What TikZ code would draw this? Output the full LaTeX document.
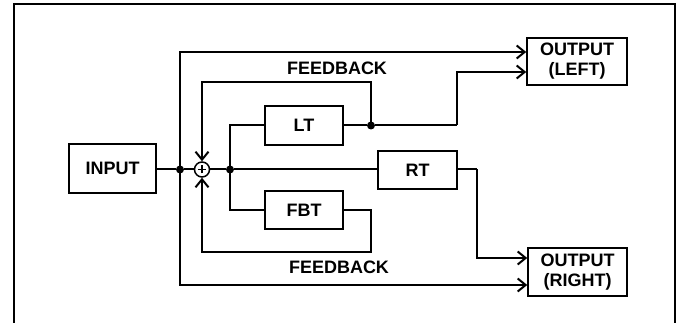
\documentclass[tikz,border=0pt]{standalone}
\usepackage{fontspec}
\setmainfont{Liberation Sans}
\usetikzlibrary{arrows.meta}
\begin{document}
\begin{tikzpicture}[x=1pt,y=-1pt,
  blk/.style={draw,line width=1.5pt,minimum width=#1,inner sep=0pt,font=\fontsize{18}{20}\selectfont\bfseries,align=center},
  wire/.style={line width=2pt},
  arr/.style={wire,-{Straight Barb[length=8pt,width=13pt]}},
  dot/.style={circle,fill,inner sep=0pt,minimum size=8pt},
  lbl/.style={font=\fontsize{18}{20}\selectfont\bfseries,inner sep=0pt}]
\useasboundingbox (0,0) rectangle (685,323);
\draw[line width=1.8pt] (14,330) -- (14,4) -- (675,4) -- (675,330);
% blocks
\node[blk=87pt,minimum height=49pt] (in) at (112.5,168.5) {INPUT};
\node[blk=78pt,minimum height=39pt] (lt) at (304,125.5) {LT};
\node[blk=78pt,minimum height=38pt] (fbt) at (304,210) {FBT};
\node[blk=79pt,minimum height=38pt] (rt) at (417.5,170) {RT};
\node[blk=100pt,minimum height=47pt] (outl) at (577,61.5) {OUTPUT\\(LEFT)};
\node[blk=99pt,minimum height=48pt] (outr) at (577.5,272) {OUTPUT\\(RIGHT)};
% summing junction
\node[circle,draw,line width=1.5pt,minimum size=15pt,inner sep=0pt] (sum) at (202,169.5) {};
\draw[line width=1.5pt] ([xshift=-4pt]sum.center) -- ([xshift=4pt]sum.center)
  ([yshift=-4pt]sum.center) -- ([yshift=4pt]sum.center);
% junction points
\node[dot] (j1) at (180,169.5) {};
\node[dot] (j2) at (230,169.5) {};
\node[dot] (jl) at (371,125.5) {};
\coordinate (fbt1) at (371,82);
\coordinate (fbb1) at (371,252);
\coordinate (lbend) at (457,125.5);
\coordinate (rbend) at (477,169.5);
\coordinate (rtin) at (rt.west |- j2);
% wiring
\draw[wire] (in.east |- j1) -- (j1) -- (sum.west);
\draw[wire] (sum.east) -- (j2) -- (rtin);
\draw[arr] (j1.center) |- ([yshift=9.5pt]outl.west);
\draw[arr] (j1.center) |- ([yshift=-13pt]outr.west);
\draw[wire] (j2.center) |- (lt.west);
\draw[wire] (j2.center) |- (fbt.west);
\draw[wire] (lt.east) -- (jl) -- (lbend);
\draw[arr] (lbend) |- ([yshift=-10.5pt]outl.west);
\draw[arr] (jl.center) -- (fbt1) -| (sum.north);
\draw[arr] (fbt.east) -| (fbb1) -| (sum.south);
\draw[wire] (rt.east |- rbend) -- (rbend);
\draw[arr] (rbend) |- ([yshift=14pt]outr.west);
% labels
\node[lbl] (fb1) at (337,68) {FEEDBACK};
\node[lbl] (fb2) at (339,267) {FEEDBACK};
\end{tikzpicture}
\end{document}
